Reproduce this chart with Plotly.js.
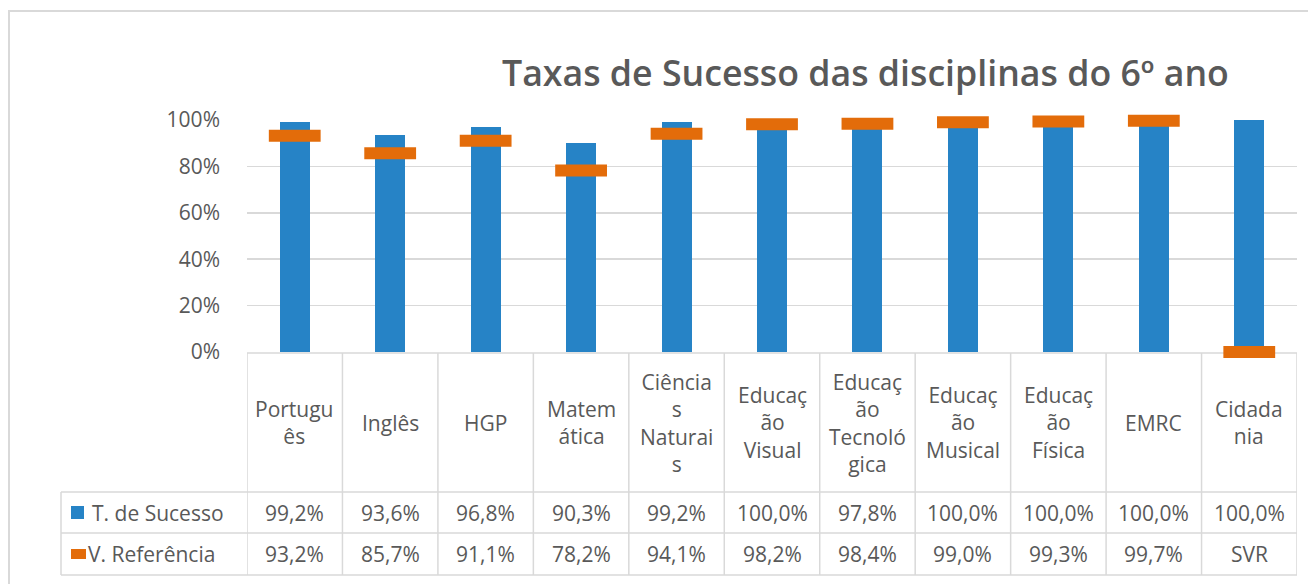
<!DOCTYPE html>
<html>
<head>
<meta charset="utf-8">
<script src="https://cdn.plot.ly/plotly-3.0.1.min.js"></script>
<style>html,body{margin:0;padding:0;background:#fff;}#chart{width:1308px;height:584px;}</style>
</head>
<body>
<div id="chart"></div>
<script>
// ---- data ----
const categories = ["Português", "Inglês", "HGP", "Matemática", "Ciências Naturais",
  "Educação Visual", "Educação Tecnológica", "Educação Musical", "Educação Física", "EMRC", "Cidadania"];
const categoryLabels = ["Portugu<br>ês", "Inglês", "HGP", "Matem<br>ática", "Ciência<br>s<br>Naturai<br>s",
  "Educaç<br>ão<br>Visual", "Educaç<br>ão<br>Tecnoló<br>gica", "Educaç<br>ão<br>Musical", "Educaç<br>ão<br>Física", "EMRC", "Cidada<br>nia"];
const successName = "T. de Sucesso";
const successValues = [99.2, 93.6, 96.8, 90.3, 99.2, 100.0, 97.8, 100.0, 100.0, 100.0, 100.0];
const referenceName = "V. Referência";
const referenceValues = [93.2, 85.7, 91.1, 78.2, 94.1, 98.2, 98.4, 99.0, 99.3, 99.7, "SVR"];
const yTicks = [0, 20, 40, 60, 80, 100];
const chartTitle = "Taxas de Sucesso das disciplinas do 6º ano";

// ---- styling ----
const W = 1308, H = 584;
const L = 247, R = 1297, T = 120, B = 352;
const BLUE = "#2683C6", ORANGE = "#E36C0A", GREY = "#595959", LINE = "#D9D9D9";
const FONT = "'Open Sans', Lato, sans-serif";
const px = x => (x - L) / (R - L);
const py = y => (B - y) / (B - T);
const fmt = v => typeof v === "number" ? v.toFixed(1).replace(".", ",") + "%" : v;
const num = v => typeof v === "number" ? v : 0;

const traces = [
  { type: "bar", x: categories, y: successValues, name: successName, width: 0.314,
    marker: { color: BLUE }, hoverinfo: "x+y" },
  { type: "scatter", mode: "markers", x: categories, y: referenceValues.map(num), name: referenceName,
    marker: { symbol: "line-ew", size: 37, color: ORANGE, line: { color: ORANGE, width: 12 } }, cliponaxis: false }
];

const shapes = [];
const annotations = [];
const rowTop = 353, row1 = 492, row2 = 533, rowBot = 575, tableLeft = 61;
const tl = { color: LINE, width: 1.5 };
shapes.push({ type: "line", layer: "below", xref: "paper", yref: "paper", x0: 0, x1: 1, y0: py(rowTop), y1: py(rowTop), line: tl });
[row1, row2, rowBot].forEach(y => shapes.push({ type: "line", layer: "below", xref: "paper", yref: "paper", x0: px(tableLeft), x1: 1, y0: py(y), y1: py(y), line: tl }));
for (let i = 0; i <= categories.length; i++) {
  shapes.push({ type: "line", layer: "below", xref: "x", yref: "paper", x0: i - 0.5, x1: i - 0.5, y0: py(rowTop), y1: py(rowBot), line: tl });
}
shapes.push({ type: "line", layer: "below", xref: "paper", yref: "paper", x0: px(tableLeft), x1: px(tableLeft), y0: py(row1), y1: py(rowBot), line: tl });
// legend keys
shapes.push({ type: "rect", xref: "paper", yref: "paper", x0: px(71), x1: px(84), y0: py(519), y1: py(506), fillcolor: BLUE, line: { width: 0 } });
shapes.push({ type: "line", xref: "paper", yref: "paper", x0: px(71), x1: px(86), y0: py(554), y1: py(554), line: { color: ORANGE, width: 10 } });
// outer chart border
shapes.push({ type: "rect", xref: "paper", yref: "paper", x0: px(9), x1: px(1330), y0: py(11), y1: py(600), line: { color: LINE, width: 2 }, layer: "below" });

const tf = { family: FONT, size: 21, color: GREY };
categories.forEach((c, i) => {
  annotations.push({ xref: "x", yref: "paper", x: c, y: py((rowTop + row1) / 2), text: categoryLabels[i], showarrow: false, font: tf, xanchor: "center", yanchor: "middle", align: "center" });
  annotations.push({ xref: "x", yref: "paper", x: c, y: py((row1 + row2) / 2), text: fmt(successValues[i]), showarrow: false, font: tf, xanchor: "center", yanchor: "middle" });
  annotations.push({ xref: "x", yref: "paper", x: c, y: py((row2 + rowBot) / 2), text: fmt(referenceValues[i]), showarrow: false, font: tf, xanchor: "center", yanchor: "middle" });
});
annotations.push({ xref: "paper", yref: "paper", x: px(90), y: py((row1 + row2) / 2), text: successName, showarrow: false, font: tf, xanchor: "left", yanchor: "middle" });
annotations.push({ xref: "paper", yref: "paper", x: px(86), y: py((row2 + rowBot) / 2), text: referenceName, showarrow: false, font: tf, xanchor: "left", yanchor: "middle" });

const layout = {
  width: W, height: H,
  margin: { l: L, r: W - R, t: T, b: H - B, pad: 0 },
  paper_bgcolor: "#fff", plot_bgcolor: "#fff",
  showlegend: false,
  title: { text: chartTitle, font: { family: FONT, size: 35.7, weight: 600, color: GREY },
    xref: "paper", x: 0.589, xanchor: "center", yref: "container", y: 1 - 74 / H, yanchor: "middle" },
  xaxis: { type: "category", range: [-0.5, categories.length - 0.5], showticklabels: false, showgrid: false, zeroline: false, showline: false, fixedrange: true },
  yaxis: { range: [0, 100], tickvals: yTicks, ticktext: yTicks.map(v => v + "%"), showgrid: true, gridcolor: LINE, gridwidth: 1.5,
    zeroline: false, showline: false, ticks: "", ticklabelstandoff: 26, tickfont: { family: FONT, size: 21, color: GREY }, fixedrange: true },
  bargap: 0,
  shapes: shapes,
  annotations: annotations,
  font: { family: FONT, color: GREY }
};

Plotly.newPlot("chart", traces, layout, { displayModeBar: false, staticPlot: true });
</script>
</body>
</html>
